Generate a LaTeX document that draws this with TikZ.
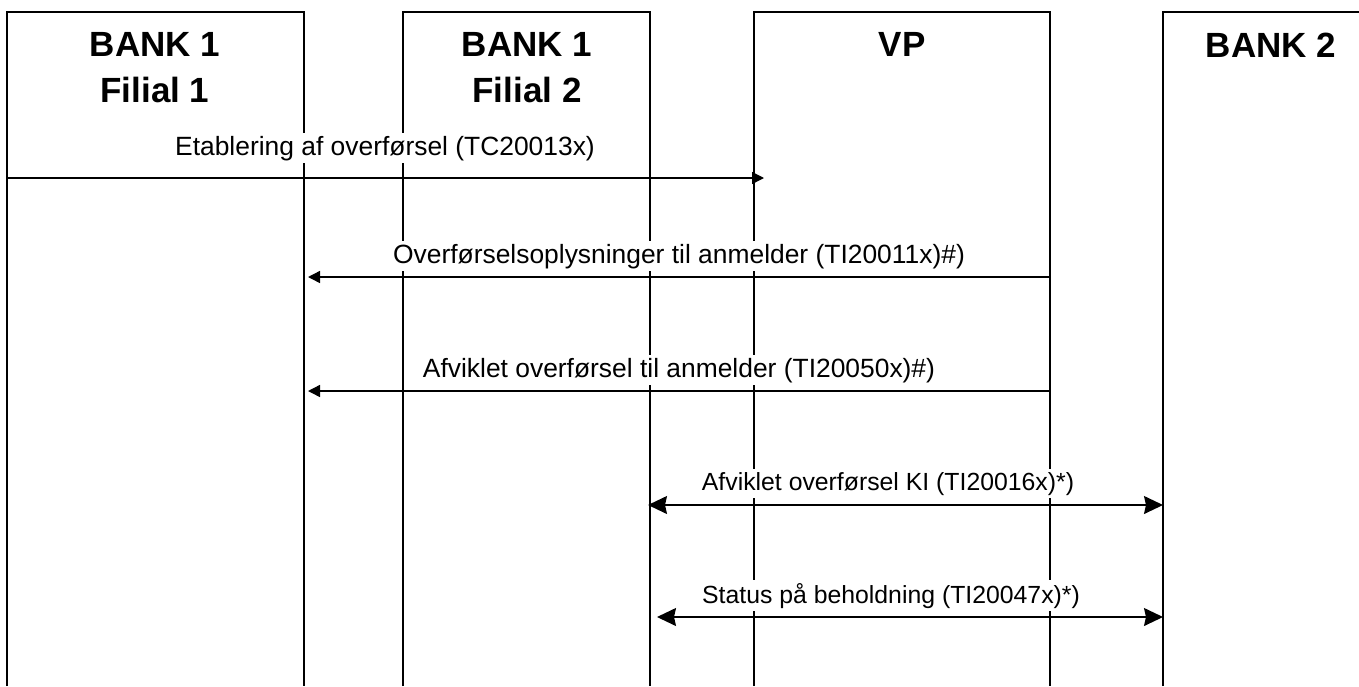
\documentclass[tikz,border=0pt]{standalone}
\usepackage{fontspec}
\setmainfont{Liberation Sans}
\usetikzlibrary{arrows.meta}

\begin{document}
\begin{tikzpicture}[x=0.5pt,y=-0.5pt,line width=0.7pt,
	head/.style={anchor=north,inner sep=0pt,align=center,font=\fontsize{17.5}{23}\selectfont\bfseries},
	lbl/.style={anchor=base,fill=white,inner sep=1.5pt,font=\fontsize{13.2}{15}\selectfont},
	lblsmall/.style={lbl,font=\fontsize{12.4}{15}\selectfont},
	msg/.style={-{Triangle[length=6pt,width=6pt]}},
	twoway/.style={{Stealth[length=9.5pt,width=9pt,inset=1pt]}-{Stealth[length=9.5pt,width=9pt,inset=1pt]}}]
		\useasboundingbox (0,0) rectangle (1359,686);
		% lanes
		\draw (7,686) -- (7,12) -- (304,12) -- (304,686);
		\draw (403,686) -- (403,12) -- (650,12) -- (650,686);
		\draw (754,686) -- (754,12) -- (1050,12) -- (1050,686);
		\draw (1163,686) -- (1163,12) -- (1359,12);
		\node[head] (f1) at (155,32) {BANK 1\\Filial 1};
		\node[head] (f2) at (527,32) {BANK 1\\Filial 2};
		\node[head] (vp) at (902,32) {VP};
		\node[head] (b2) at (1271,32) {BANK 2};
		% messages
		\coordinate (m1s) at (7,178);
		\coordinate (m1e) at (764,178);
		\coordinate (m2s) at (1050,277);
		\coordinate (m2e) at (308,277);
		\coordinate (m3s) at (1050,391);
		\coordinate (m3e) at (308,391);
		\coordinate (m4s) at (648,505);
		\coordinate (m4e) at (1163,505);
		\coordinate (m5s) at (657,617);
		\coordinate (m5e) at (1163,617);
		\node[lbl] (t1) at (385,155) {Etablering af overførsel (TC20013x)};
		\node[lbl] (t2) at (679,263) {Overførselsoplysninger til anmelder (TI20011x)\#)};
		\node[lbl] (t3) at (679,377) {Afviklet overførsel til anmelder (TI20050x)\#)};
		\node[lblsmall] (t4) at (888,490) {Afviklet overførsel KI (TI20016x)*)};
		\node[lblsmall] (t5) at (891,603) {Status på beholdning (TI20047x)*)};
		\draw [msg] (m1s) -- (m1e);
		\draw [msg] (m2s) -- (m2e);
		\draw [msg] (m3s) -- (m3e);
		\draw [twoway] (m4s) -- (m4e);
		\draw [twoway] (m5s) -- (m5e);
\end{tikzpicture}
\end{document}
